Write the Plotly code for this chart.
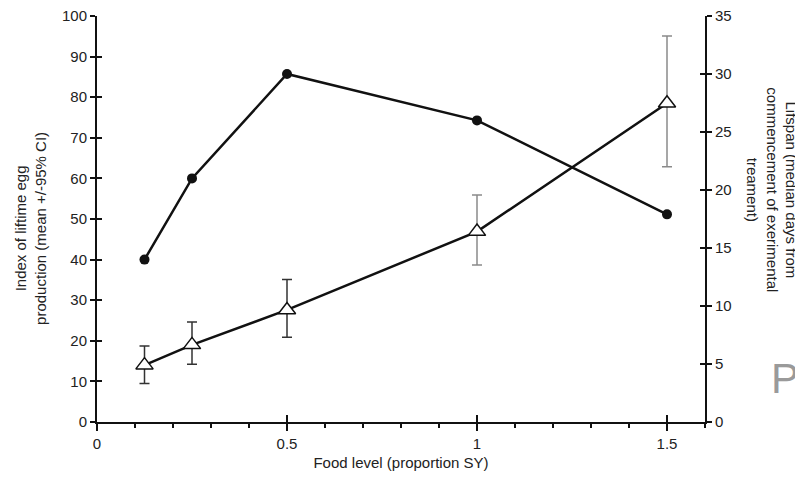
import plotly.graph_objects as go

food = [0.125, 0.25, 0.5, 1.0, 1.5]
egg_mean = [14.0, 19.0, 27.6, 46.9, 78.5]
egg_upper = [18.7, 24.6, 35.1, 55.9, 95.1]
egg_lower = [9.5, 14.2, 20.9, 38.7, 62.9]
lifespan = [14.0, 21.0, 30.0, 26.0, 17.9]

x_ticks = [0, 0.5, 1, 1.5]
x_labels = ["0", "0.5", "1", "1.5"]
y_left_ticks = list(range(0, 101, 10))
y_right_ticks = list(range(0, 36, 5))

FONT = "Liberation Sans, Arial, sans-serif"
INK = "#111111"
TXT = "#222222"

err_plus = [u - m for u, m in zip(egg_upper, egg_mean)]
err_minus = [m - l for l, m in zip(egg_lower, egg_mean)]

fig = go.Figure()

# error bars: first three dark, last two lighter grey (as in the scan)
fig.add_trace(go.Scatter(
    x=food[:3], y=egg_mean[:3], mode="markers", marker=dict(size=1, opacity=0),
    error_y=dict(type="data", symmetric=False, array=err_plus[:3], arrayminus=err_minus[:3],
                 color="#333333", thickness=1.5, width=5),
    showlegend=False, hoverinfo="skip"))
fig.add_trace(go.Scatter(
    x=food[3:], y=egg_mean[3:], mode="markers", marker=dict(size=1, opacity=0),
    error_y=dict(type="data", symmetric=False, array=err_plus[3:], arrayminus=err_minus[3:],
                 color="#8a8a8a", thickness=1.5, width=5),
    showlegend=False, hoverinfo="skip"))

# lifespan (right axis)
fig.add_trace(go.Scatter(
    x=food, y=lifespan, yaxis="y2", mode="lines+markers",
    line=dict(color=INK, width=2.5),
    marker=dict(symbol="circle", size=10, color=INK),
    showlegend=False))

# egg production (left axis)
fig.add_trace(go.Scatter(
    x=food, y=egg_mean, mode="lines+markers",
    line=dict(color=INK, width=2.5),
    marker=dict(symbol="triangle-up", size=15, color="white", line=dict(color=INK, width=1.5)),
    showlegend=False))

# invisible traces to activate inner-tick overlay axes
fig.add_trace(go.Scatter(x=[0], y=[0], xaxis="x2", yaxis="y3", mode="markers",
                         marker=dict(opacity=0), showlegend=False, hoverinfo="skip"))
fig.add_trace(go.Scatter(x=[0], y=[0], xaxis="x2", yaxis="y4", mode="markers",
                         marker=dict(opacity=0), showlegend=False, hoverinfo="skip"))

tickfont = dict(family=FONT, size=15, color=TXT)

# page body has an 8px margin, so the figure is sized to fit the 803x485 window
fig.update_layout(
    width=795, height=477,
    margin=dict(l=89, r=98, t=8, b=63, autoexpand=False),
    paper_bgcolor="white", plot_bgcolor="white",
    font=dict(family=FONT, color=TXT),
    xaxis=dict(
        range=[0, 1.6], tickvals=x_ticks, ticktext=x_labels, automargin=False,
        showgrid=False, zeroline=False, showline=True, linecolor=INK, linewidth=2,
        ticks="outside", ticklen=7, tickwidth=1.5, tickcolor=INK,
        minor=dict(dtick=0.1, tick0=0, ticks="outside", ticklen=4, tickwidth=1.5, tickcolor=INK),
        tickfont=tickfont, ticklabeloverflow="allow",
        title=dict(text="Food level (proportion SY)", font=dict(family=FONT, size=15, color=TXT), standoff=6),
    ),
    xaxis2=dict(
        range=[0, 1.6], overlaying="x", anchor="y", side="bottom", automargin=False,
        tickvals=x_ticks, showticklabels=False, ticks="inside", ticklen=7, tickwidth=1.5, tickcolor=INK,
        showgrid=False, zeroline=False, showline=False,
    ),
    yaxis=dict(
        range=[0, 100], tickvals=y_left_ticks, automargin=False,
        showgrid=False, zeroline=False, showline=True, linecolor=INK, linewidth=2,
        ticks="outside", ticklen=5, tickwidth=1.5, tickcolor=INK,
        tickfont=tickfont, ticklabeloverflow="allow",
    ),
    yaxis2=dict(
        range=[0, 35], tickvals=y_right_ticks, overlaying="y", side="right", anchor="x", automargin=False,
        showgrid=False, zeroline=False, showline=True, linecolor=INK, linewidth=2,
        ticks="outside", ticklen=5, tickwidth=1.5, tickcolor=INK,
        tickfont=tickfont, ticklabeloverflow="allow",
    ),
    yaxis3=dict(
        range=[0, 100], tickvals=y_left_ticks, overlaying="y", side="left", anchor="x2", automargin=False,
        showticklabels=False, ticks="inside", ticklen=5, tickwidth=1.5, tickcolor=INK,
        showgrid=False, zeroline=False, showline=False,
    ),
    yaxis4=dict(
        range=[0, 35], tickvals=y_right_ticks, overlaying="y", side="right", anchor="x2", automargin=False,
        showticklabels=False, ticks="inside", ticklen=5, tickwidth=1.5, tickcolor=INK,
        showgrid=False, zeroline=False, showline=False,
    ),
    annotations=[
        dict(text="Index of liftime egg<br>production (mean +/-95% CI)",
             xref="paper", yref="paper", x=-0.1086, y=0.478, xanchor="center", yanchor="middle",
             textangle=-90, showarrow=False, align="center",
             font=dict(family=FONT, size=15, color=TXT)),
        dict(text="Lifspan (median days from<br>commencement of exerimental<br>treament)",
             xref="paper", yref="paper", x=1.110, y=0.571, xanchor="center", yanchor="middle",
             textangle=90, showarrow=False, align="center",
             font=dict(family=FONT, size=15, color=TXT)),
        dict(text="P", xref="paper", yref="paper", x=1.131, y=0.108, xanchor="center", yanchor="middle",
             showarrow=False, font=dict(family=FONT, size=42, color="#9a9a9a")),
    ],
)

fig.write_html("out.html")
